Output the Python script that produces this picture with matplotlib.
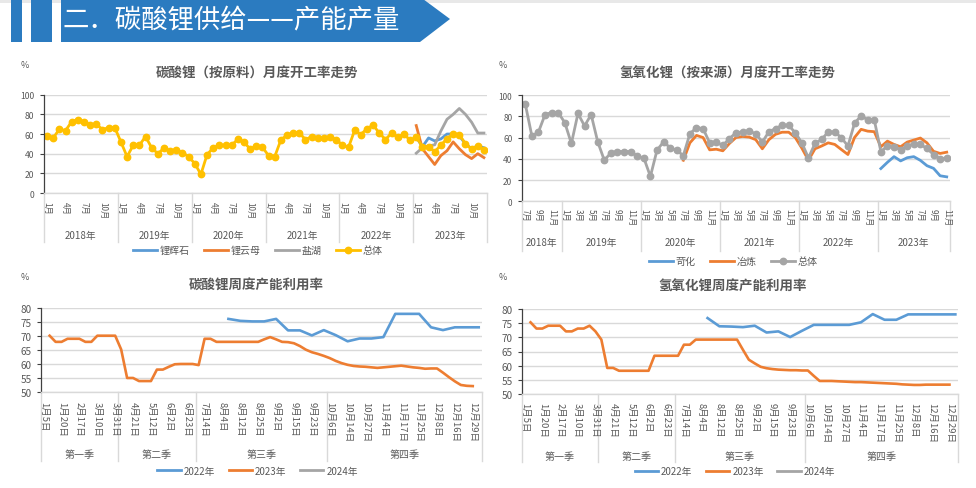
import matplotlib
matplotlib.use("Agg")
import matplotlib.pyplot as plt
import matplotlib.transforms as mtransforms
from matplotlib.lines import Line2D
from matplotlib.patches import Polygon, Rectangle
import numpy as np

plt.rcParams["font.family"] = ["Noto Sans CJK SC", "DejaVu Sans"]
plt.rcParams["axes.unicode_minus"] = False

W, H = 976, 489

BLUE = "#5B9BD5"
ORANGE = "#ED7D31"
GRAY = "#A5A5A5"
GOLD = "#FFC000"
GRID = "#D9D9D9"
AXIS = "#404040"
TEXT = "#595959"
BANNER = "#2B7BC0"

# ---- 碳酸锂（按原料）月度开工率, 2018-01 .. 2023-12 ----
li2co3_years = ["2018年", "2019年", "2020年", "2021年", "2022年", "2023年"]
li2co3_month_ticks = ["1月", "4月", "7月", "10月"]
li2co3_total = [
    58.4, 56.0, 65.0, 63.5, 72.6, 74.7, 72.6, 69.6, 70.0, 64.5, 66.5, 66.5,
    52.0, 37.0, 48.6, 48.6, 57.4, 46.0, 40.0, 45.6, 43.0, 44.0, 41.0, 37.0,
    30.0, 19.0, 39.0, 46.0, 48.6, 48.6, 48.6, 54.7, 52.0, 44.6, 48.0, 46.6,
    38.0, 37.0, 54.0, 59.0, 61.0, 61.0, 54.4, 57.4, 56.0, 55.7, 57.4, 54.4,
    48.6, 46.6, 64.0, 59.5, 65.5, 69.0, 61.0, 54.4, 61.0, 56.8, 60.0, 53.7,
    56.8, 47.3, 47.3, 42.0, 48.6, 55.4, 60.0, 59.5, 50.0, 44.6, 48.0, 44.0,
]
li2co3_2023_start = 60
li2co3_spodumene = [57, 47, 56, 53, 55, 60, 60, 58, 50, 45, 48, 46]
li2co3_lepidolite = [68.6, 45, 37, 29, 38, 43, 52, 45, 39, 35, 40, 36]
li2co3_brine = [40.5, 46, 48, 49, 63, 75, 80, 86, 80, 72, 61, 61]

# ---- 氢氧化锂（按来源）月度开工率, 2018-07 .. 2023-11 ----
lioh_years = ["2018年", "2019年", "2020年", "2021年", "2022年", "2023年"]
lioh_first_month = [7, 1, 1, 1, 1, 1]
lioh_last_month = [12, 12, 12, 12, 12, 11]
lioh_total = [
    91.5, 61.4, 65.2, 81.6, 83.5, 83.5,
    74.0, 54.4, 82.6, 70.9, 81.6, 56.0, 38.6, 45.6, 46.8, 46.8, 46.8, 42.4,
    40.8, 23.4, 48.0, 56.0, 50.3, 48.0, 43.0, 63.6, 69.3, 68.4, 55.0, 55.7,
    52.5, 59.0, 64.5, 65.2, 66.0, 63.6, 55.7, 65.5, 68.4, 71.5, 71.5, 64.5,
    55.0, 40.8, 54.4, 58.2, 65.2, 65.2, 59.8, 52.0, 73.4, 80.4, 76.6, 76.6,
    46.8, 52.0, 51.0, 48.7, 52.0, 54.0, 53.5, 49.7, 44.0, 40.0, 40.8,
]
lioh_smelt_start = 24
lioh_smelt = [
    38.6, 55.0, 62.0, 60.0, 48.4, 49.0,
    47.5, 54.4, 60.0, 61.0, 60.4, 58.0, 49.4, 58.0, 63.0, 65.0, 65.0, 60.0,
    50.0, 38.6, 49.4, 52.0, 55.0, 53.5, 48.7, 44.0, 60.0, 67.7, 66.0, 65.5,
    51.3, 56.6, 53.5, 51.3, 55.7, 57.6, 59.5, 55.0, 47.0, 45.0, 46.2,
]
lioh_caustic_start = 54
lioh_caustic = [30.8, 36.7, 42.0, 38.0, 41.0, 42.0, 38.5, 33.5, 31.0, 24.0, 23.0]

# ---- 周度产能利用率 (74 weekly categories) ----
week_labels = [
    "1月5日", "1月20日", "2月17日", "3月10日", "3月31日", "4月21日", "5月12日",
    "6月2日", "6月23日", "7月14日", "8月4日", "8月12日", "8月25日", "9月2日",
    "9月15日", "9月23日", "10月6日", "10月14日", "10月27日", "11月4日",
    "11月17日", "11月25日", "12月8日", "12月16日", "12月29日",
]
quarter_labels = ["第一季", "第二季", "第三季", "第四季"]
quarter_weeks = [13, 13, 22, 26]
year_labels = ["2022年", "2023年", "2024年"]

lce_2023_start = 1
lce_2023 = [
    70.0, 67.8, 67.8, 68.9, 68.9, 68.9, 67.8, 67.8, 70.0, 70.0, 70.0, 70.0,
    65.1, 54.9, 54.9, 53.8, 53.8, 53.8, 57.9, 57.9, 58.9, 59.8, 59.9, 59.9, 59.9, 59.5,
    68.9, 68.9, 67.8, 67.8, 67.8, 67.8, 67.8, 67.8, 67.8, 67.8, 68.7, 69.5, 68.7,
    67.8, 67.7, 67.3, 66.3, 65.0, 64.1, 63.5, 62.8,
    62.0, 61.0, 60.2, 59.6, 59.2, 59.0, 58.9, 58.7, 58.5, 58.7, 58.9, 59.1, 59.3,
    59.0, 58.7, 58.5, 58.2, 58.3, 58.3, 56.8, 55.2, 53.7, 52.4, 52.1, 52.0,
]
lce_2022_start = 31
lce_2022 = [
    76.0, None, 75.3, None, 75.1, None, 75.1, None, 76.0, None, 71.9, None,
    71.9, None, 70.1, None, 72.0, None, 70.2, None, 68.0, None, 69.0, None,
    69.0, None, 69.5, None, 77.8, None, 77.8, None, 77.8, None, 73.0, None,
    72.0, None, 73.0, None, 73.0, None, 73.0,
]

lioh_w_2023_start = 1
lioh_w_2023 = [
    75.3, 73.1, 73.1, 74.1, 74.1, 74.1, 72.1, 72.1, 73.1, 73.1, 74.1, 72.1,
    69.2, 59.2, 59.2, 58.2, 58.2, 58.2, 58.2, 58.2, 58.2, 63.5, 63.5, 63.5, 63.5, 63.5,
    67.4, 67.4, 69.2, 69.2, 69.2, 69.2, 69.2, 69.2, 69.2, 69.2, 65.6, 62.1, 60.8,
    59.6, 59.1, 58.8, 58.6, 58.5, 58.4, 58.4, 58.3,
    58.3, 56.4, 54.6, 54.6, 54.6, 54.5, 54.4, 54.3, 54.2, 54.2, 54.1, 54.0, 53.9,
    53.8, 53.7, 53.6, 53.4, 53.3, 53.2, 53.2, 53.3, 53.3, 53.3, 53.3, 53.3,
]
lioh_w_2022_start = 31
lioh_w_2022 = [
    76.8, None, 73.9, None, 73.8, None, 73.6, None, 74.1, None, 71.7, None,
    72.1, None, 70.1, None, 72.3, None, 74.4, None, 74.4, None, 74.4, None,
    74.4, None, 75.3, None, 78.2, None, 76.2, None, 76.2, None, 78.1, None,
    78.1, None, 78.1, None, 78.1, None, 78.1,
]


fig = plt.figure(figsize=(W / 100, H / 100), dpi=100)
bg = fig.add_axes([0, 0, 1, 1])
bg.set_xlim(0, W)
bg.set_ylim(H, 0)
bg.axis("off")

# header banner
bg.add_patch(Rectangle((0, 0), W, 4, color="#E8E8E8", lw=0))
bg.add_patch(Rectangle((11, 0), 11, 43, color=BANNER, lw=0))
bg.add_patch(Rectangle((31, 0), 21, 43, color=BANNER, lw=0))
bg.add_patch(Polygon([(61, 0), (423, 0), (450, 20), (420, 43), (61, 43)], closed=True, color=BANNER, lw=0))
bg.text(63, 21, "二．碳酸锂供给——产能产量", color="white", fontsize=19, ha="left", va="center")


def px_axes(x0, top, x1, bottom):
    return fig.add_axes([x0 / W, 1 - bottom / H, (x1 - x0) / W, (bottom - top) / H])


def style_axes(ax, ymin, ymax, ystep, fs, pad):
    ax.set_ylim(ymin, ymax)
    ax.set_yticks(np.arange(ymin, ymax + 1, ystep))
    ax.grid(axis="y", color=GRID, lw=1.0)
    ax.set_axisbelow(True)
    ax.patch.set_alpha(0)
    for side in ("top", "right"):
        ax.spines[side].set_visible(False)
    ax.spines["left"].set_color(AXIS)
    ax.spines["left"].set_linewidth(0.9)
    ax.spines["bottom"].set_color(GRID)
    ax.spines["bottom"].set_linewidth(1.0)
    ax.tick_params(axis="y", length=3, width=0.8, color=AXIS, labelsize=fs, labelcolor=TEXT, pad=pad)
    ax.set_xticks([])


def category_axis(ax, n, ticks, bounds, groups, axis_y, tick_top, group_y, sep_bottom, tick_fs, group_fs):
    ax.set_xlim(-0.5, n - 0.5)
    tr = mtransforms.blended_transform_factory(ax.transData, bg.transData)
    for idx, lab in ticks:
        ax.text(idx, tick_top, lab, rotation=-90, ha="center", va="top", transform=tr,
                fontsize=tick_fs, color=TEXT, clip_on=False)
    for b in bounds:
        ax.plot([b, b], [axis_y, sep_bottom], transform=tr, color=GRID, lw=1.0, clip_on=False)
    for left, right, lab in zip(bounds[:-1], bounds[1:], groups):
        ax.text((left + right) / 2, group_y, lab, ha="center", va="center", transform=tr,
                fontsize=group_fs, color=TEXT, clip_on=False)


def plot_series(ax, values, start, **kw):
    xs = [start + i for i, v in enumerate(values) if v is not None]
    ys = [v for v in values if v is not None]
    return ax.plot(xs, ys, **kw)[0]


def panel_text(cx, ty, title, px, py):
    bg.text(cx, ty, title, ha="center", va="center", fontsize=9.7, fontweight="bold", color=TEXT)
    bg.text(px, py, "%", ha="center", va="center", fontsize=6.5, color=TEXT)


def legend(handles, labels, cx, cy, fs):
    fig.legend(handles, labels, loc="center", bbox_to_anchor=(cx / W, 1 - cy / H), ncol=len(handles),
               frameon=False, fontsize=fs, labelcolor=TEXT, handlelength=2.4, handletextpad=0.3,
               columnspacing=1.4, borderpad=0)


# ---------- top-left: 碳酸锂（按原料） ----------
ax1 = px_axes(44, 95.7, 487, 194)
style_axes(ax1, 0, 100, 20, 6.2, 4)
n1 = len(li2co3_total)
ticks1 = []
for k in range(len(li2co3_years)):
    for lab in li2co3_month_ticks:
        ticks1.append((12 * k + int(lab[:-1]) - 1, lab))
bounds1 = [12 * k - 0.5 for k in range(len(li2co3_years) + 1)]
category_axis(ax1, n1, ticks1, bounds1, li2co3_years, 194, 202, 235.7, 243, 5.9, 7)
h1 = [
    plot_series(ax1, li2co3_spodumene, li2co3_2023_start, color=BLUE, lw=2.0),
    plot_series(ax1, li2co3_lepidolite, li2co3_2023_start, color=ORANGE, lw=2.0),
    plot_series(ax1, li2co3_brine, li2co3_2023_start, color=GRAY, lw=2.0),
    plot_series(ax1, li2co3_total, 0, color=GOLD, lw=2.0, marker="o", ms=4.6, mec=GOLD),
]
panel_text(257, 74, "碳酸锂（按原料）月度开工率走势", 25, 66)
legend(h1, ["锂辉石", "锂云母", "盐湖", "总体"], 258, 251, 7.2)

# ---------- top-right: 氢氧化锂（按来源） ----------
ax2 = px_axes(522, 96, 950, 202.3)
style_axes(ax2, 0, 100, 20, 6.0, 4)
n2 = len(lioh_total)
ticks2, bounds2, idx = [], [-0.5], 0
for first, last in zip(lioh_first_month, lioh_last_month):
    for m in range(first, last + 1):
        if m % 2 == 1:
            ticks2.append((idx, f"{m}月"))
        idx += 1
    bounds2.append(idx - 0.5)
category_axis(ax2, n2, ticks2, bounds2, lioh_years, 202.3, 209, 243.3, 252, 5.9, 7)
h2 = [
    plot_series(ax2, lioh_caustic, lioh_caustic_start, color=BLUE, lw=2.0),
    plot_series(ax2, lioh_smelt, lioh_smelt_start, color=ORANGE, lw=2.0),
    plot_series(ax2, lioh_total, 0, color=GRAY, lw=2.0, marker="o", ms=4.6, mec=GRAY),
]
panel_text(727, 74, "氢氧化锂（按来源）月度开工率走势", 503, 66)
legend(h2, ["苛化", "冶炼", "总体"], 733, 262, 7.2)

# ---------- weekly panels ----------
n_weeks = sum(quarter_weeks)
week_ticks = [(3 * i, lab) for i, lab in enumerate(week_labels)]
week_bounds = [-0.5] + list(np.cumsum(quarter_weeks) - 0.5)
week_handles = [Line2D([], [], color=BLUE, lw=2.0), Line2D([], [], color=ORANGE, lw=2.0),
                Line2D([], [], color=GRAY, lw=2.0)]

ax3 = px_axes(40.7, 308.7, 481.7, 392.7)
style_axes(ax3, 50, 80, 5, 7.2, 3.5)
category_axis(ax3, n_weeks, week_ticks, week_bounds, quarter_labels, 392.7, 401.5, 455, 461.5, 6.8, 7.2)
plot_series(ax3, lce_2022, lce_2022_start, color=BLUE, lw=1.9)
plot_series(ax3, lce_2023, lce_2023_start, color=ORANGE, lw=1.9)
panel_text(256, 285.7, "碳酸锂周度产能利用率", 25, 277)
legend(week_handles, year_labels, 257.5, 471.7, 7)

ax4 = px_axes(521.7, 310, 958.3, 395)
style_axes(ax4, 50, 80, 5, 7.2, 3.5)
category_axis(ax4, n_weeks, week_ticks, week_bounds, quarter_labels, 395, 403, 456.7, 463, 6.8, 7.2)
plot_series(ax4, lioh_w_2022, lioh_w_2022_start, color=BLUE, lw=1.9)
plot_series(ax4, lioh_w_2023, lioh_w_2023_start, color=ORANGE, lw=1.9)
panel_text(732.5, 286.7, "氢氧化锂周度产能利用率", 503, 278)
legend(week_handles, year_labels, 735, 472.3, 7)

fig.savefig("out.png", dpi=100)
plt.close(fig)
